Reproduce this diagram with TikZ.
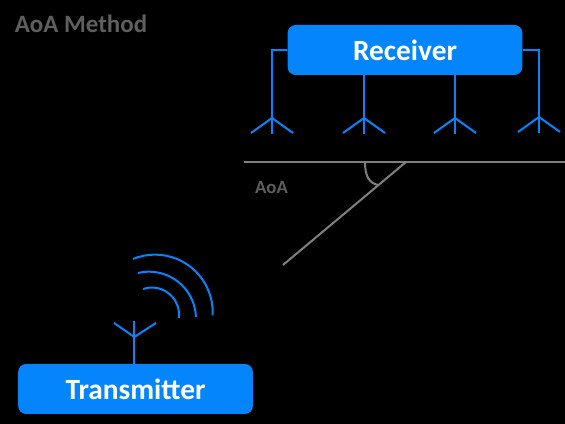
\documentclass[tikz,border=0pt]{standalone}
\usepackage{fontspec}
\setmainfont{Carlito}
\usepackage{xcolor}
\definecolor{wifiblue}{HTML}{0585FC}
\definecolor{dimgray}{HTML}{5F5F5F}
\definecolor{linegray}{HTML}{7F7F7F}
\tikzset{
  radio/.style={fill=wifiblue,rounded corners=6pt,minimum width=176pt,minimum height=37.5pt,inner sep=0pt,text=white,font=\bfseries\fontsize{22}{24}\selectfont},
  wire/.style={wifiblue,line width=1.5pt},
  wave/.style={wifiblue,line width=1.5pt},
  ray/.style={linegray,line width=1.5pt},
  note/.style={text=dimgray,inner sep=0pt,font=\bfseries}
}
\begin{document}
\begin{tikzpicture}[x=0.75pt,y=0.75pt]
  \useasboundingbox (0,0) rectangle (565,424);
  \fill[black] (0,0) rectangle (565,424);
  \node[note,font=\bfseries\fontsize{18.7}{20}\selectfont] (title) at (81,400) {AoA Method};
  \node[radio] (rx) at (405,374) {Receiver};
  \node[radio] (tx) at (135.5,35) {Transmitter};
  % receiver antennas
  \foreach \name/\px/\py in {ant1/272/306,ant2/364/306,ant3/455/306,ant4/539/307}{
    \coordinate (\name) at (\px,\py);
    \coordinate (\name-b) at (\px,\py-16);
    \coordinate (\name-l) at (\px-21,\py-15);
    \coordinate (\name-r) at (\px+21,\py-15);
    \draw[wire] (\name-l) -- (\name) -- (\name-r);
    \draw[wire] (\name) -- (\name-b);
  }
  \draw[wire] (rx.west) -| (ant1);
  \draw[wire] (rx.south -| ant2) -- (ant2);
  \draw[wire] (rx.south -| ant3) -- (ant3);
  \draw[wire] (rx.east) -| (ant4);
  % angle of arrival
  \coordinate (vertex) at (406,262);
  \coordinate (left) at (244,262);
  \coordinate (right) at (565,262);
  \coordinate (source) at (283,159);
  \draw[ray] (left) -- (right);
  \draw[ray] (vertex) -- (source);
  \draw[ray] (365,262) .. controls (365,248) and (369,241) .. (378,239);
  \node[note,font=\bfseries\fontsize{14}{16}\selectfont] (aoa) at (271.5,236.5) {AoA};
  % transmitter antenna and waves
  \coordinate (txant) at (134.3,87);
  \coordinate (txant-t) at (134.3,103);
  \coordinate (txant-l) at (114,101);
  \coordinate (txant-r) at (156,101);
  \draw[wire] (tx.north -| txant) -- (txant-t);
  \draw[wire] (txant-l) -- (txant) -- (txant-r);
  \draw[wave] (143,135) arc[start angle=109,end angle=-7,radius=27.2];
  \draw[wave] (138,151) arc[start angle=103.5,end angle=2,radius=47];
  \draw[wave] (133,165) arc[start angle=112.4,end angle=-3,radius=57.7];
\end{tikzpicture}
\end{document}
